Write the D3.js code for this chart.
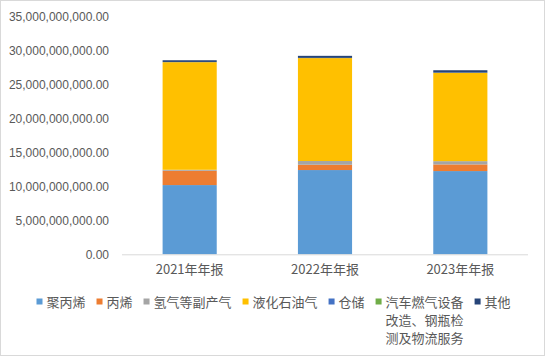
<!DOCTYPE html>
<html><head><meta charset="utf-8">
<script src="https://cdn.jsdelivr.net/npm/d3@7"></script>
<style>
html,body{margin:0;padding:0;background:#fff;}
svg{display:block;}
text{font-family:"Noto Sans CJK SC","Liberation Sans",sans-serif;fill:#595959;}
</style></head>
<body>
<svg id="c" width="545" height="356"></svg>
<script>
const categories = ["2021年年报", "2022年年报", "2023年年报"];
const seriesNames = ["聚丙烯", "丙烯", "氢气等副产气", "液化石油气", "仓储", "汽车燃气设备改造、钢瓶检测及物流服务", "其他"];
const legendLines = [["聚丙烯"], ["丙烯"], ["氢气等副产气"], ["液化石油气"], ["仓储"], ["汽车燃气设备", "改造、钢瓶检", "测及物流服务"], ["其他"]];
const polypropylene = [10.19e9, 12.40e9, 12.25e9];
const propylene = [2.10e9, 0.78e9, 0.98e9];
const hydrogenGas = [0.15e9, 0.55e9, 0.48e9];
const lpg = [15.84e9, 15.15e9, 13.00e9];
const storage = [0.02e9, 0.02e9, 0.02e9];
const vehicleGasServices = [0.01e9, 0.01e9, 0.01e9];
const other = [0.25e9, 0.30e9, 0.35e9];
const yTicks = [0, 5e9, 10e9, 15e9, 20e9, 25e9, 30e9, 35e9];
const colors = ["#5B9BD5", "#ED7D31", "#A5A5A5", "#FFC000", "#4472C4", "#70AD47", "#264478"];

const seriesValues = [polypropylene, propylene, hydrogenGas, lpg, storage, vehicleGasServices, other];
const table = categories.map((c, i) => {
  const row = {cat: c};
  seriesNames.forEach((s, j) => row[s] = seriesValues[j][i]);
  return row;
});

const svg = d3.select("#c");
svg.append("rect").attr("x", 0.5).attr("y", 0.5).attr("width", 544).attr("height", 355)
  .attr("fill", "#fff").attr("stroke", "#d9d9d9");

const x = d3.scaleBand().domain(categories).range([122, 528]).paddingInner(0.6).paddingOuter(0.3);
const y = d3.scaleLinear().domain([0, 35e9]).range([254.3, 16.5]);

const stack = d3.stack().keys(seriesNames)(table);
svg.append("g").selectAll("g").data(stack).join("g")
  .attr("fill", (d, i) => colors[i])
  .selectAll("rect").data(d => d).join("rect")
  .attr("x", d => x(d.data.cat))
  .attr("width", x.bandwidth())
  .attr("y", d => y(d[1]))
  .attr("height", d => y(d[0]) - y(d[1]));

// y axis labels
const yAxis = d3.axisLeft(y).tickValues(yTicks).tickFormat(d3.format(",.2f")).tickSize(0).tickPadding(0);
const yg = svg.append("g").attr("transform", "translate(109,0)").call(yAxis);
yg.select(".domain").remove();
yg.selectAll("text").attr("font-size", 12).style("fill", "#595959")
  .style("font-family", '"Liberation Sans","Noto Sans",sans-serif');

// x axis
const xAxis = d3.axisBottom(x).tickSize(0).tickPadding(10);
const xg = svg.append("g").attr("transform", "translate(0,254.3)").call(xAxis);
xg.select(".domain").attr("stroke", "#d9d9d9").attr("d", "M122,0.5H528");
xg.selectAll("text").attr("font-size", 13).style("fill", "#595959");

// legend
const lg = svg.append("g");
let cx = 36.5;
seriesNames.forEach((s, i) => {
  const g = lg.append("g");
  g.append("rect").attr("x", cx).attr("y", 298.5).attr("width", 6).attr("height", 6).attr("fill", colors[i]);
  const t = g.append("text").attr("x", cx + 10).attr("y", 307).attr("font-size", 13);
  legendLines[i].forEach((ln, k) => {
    t.append("tspan").attr("x", cx + 10).attr("y", 307 + k * 18).text(ln);
  });
  const w = d3.max(t.selectAll("tspan").nodes(), n => n.getComputedTextLength());
  cx += 10 + w + 11;
});
</script>
</body></html>
